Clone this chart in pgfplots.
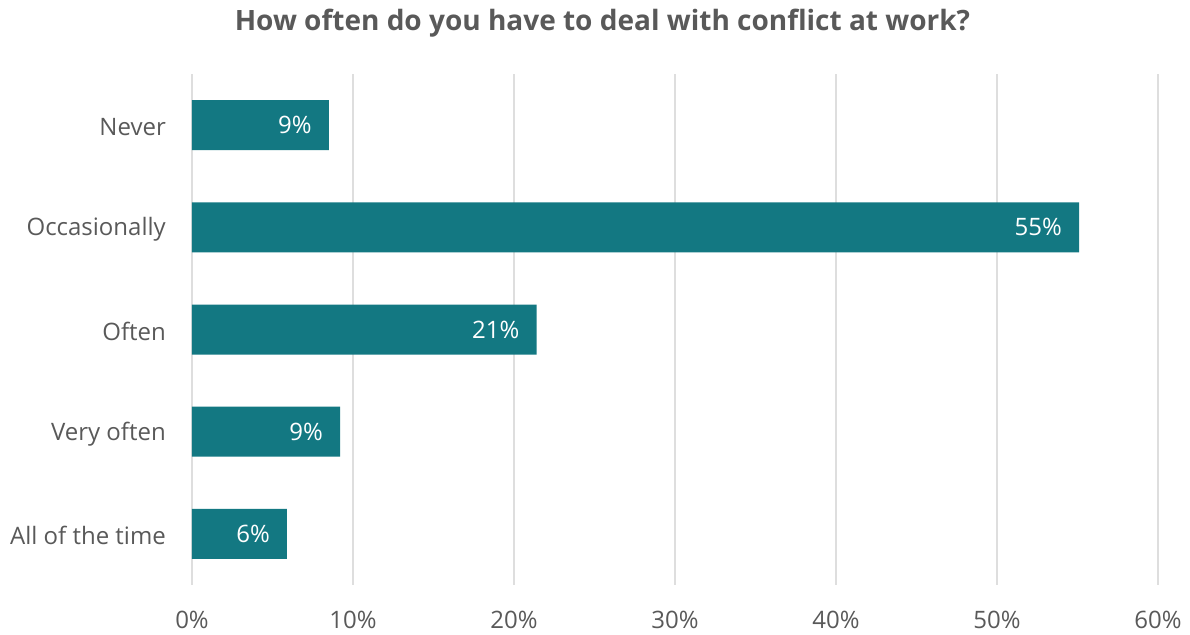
\documentclass[border=0pt]{standalone}
\usepackage{pgfplots}
\pgfplotsset{compat=1.18}
\usepackage{fontspec}
\setmainfont{Open Sans}
\definecolor{barc}{HTML}{137882}
\definecolor{txt}{HTML}{595959}
\definecolor{gridc}{HTML}{DEDEDE}
\begin{document}
\begin{tikzpicture}
\path[use as bounding box] (-192pt,-49pt) rectangle (998pt,585pt);
\begin{axis}[
  at={(0pt,0pt)}, anchor=south west,
  scale only axis, width=966pt, height=511pt,
  xmin=0, xmax=60, ymin=-0.5, ymax=4.5, y dir=reverse,
  xbar, bar width=50pt, bar shift=0pt,
  axis line style={draw=none},
  xtick={0,10,...,60},
  /pgf/number format/assume math mode=true,
  xticklabel={\pgfmathprintnumber{\tick}\%},
  xmajorgrids, grid style={gridc, line width=1.5pt},
  ytick={0,...,4},
  yticklabels={Never,Occasionally,Often,Very often,All of the time},
  major tick length=0pt,
  tick label style={font=\fontsize{24}{29}\selectfont, text=txt},
  yticklabel style={inner sep=0pt, xshift=-26pt, yshift=-2pt},
  xticklabel style={inner sep=0pt, yshift=-26pt},
  point meta=explicit symbolic,
  nodes near coords={\pgfplotspointmeta},
  nodes near coords style={anchor=east, xshift=-17pt, inner sep=0pt, text=white, font=\fontsize{24}{29}\selectfont},
]
\addplot[fill=barc, draw=none] table[meta=lab] {
x y lab
8.5 0 9\%
55.1 1 55\%
21.4 2 21\%
9.2 3 9\%
5.9 4 6\%
};
\end{axis}
\node[font=\fontsize{28}{34}\selectfont\bfseries, text=txt] at (410.5pt,562pt) {How often do you have to deal with conflict at work?};
\end{tikzpicture}
\end{document}
